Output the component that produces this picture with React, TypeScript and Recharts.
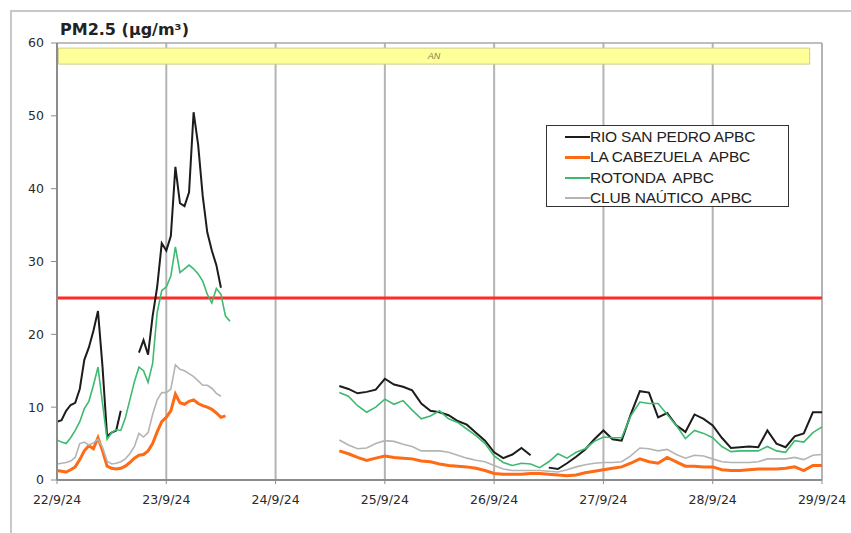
import React from 'react';
import { LineChart, Line, XAxis, YAxis, CartesianGrid, ReferenceLine, ReferenceArea } from 'recharts';

// hours since 22/9/24 00:00
const hours = [
  0, 1, 2, 3, 4, 5, 6, 7, 8, 9, 10, 11, 12, 13, 14, 15, 16, 17, 18, 19,
  20, 21, 22, 23, 24, 25, 26, 27, 28, 29, 30, 31, 32, 33, 34, 35, 36, 37, 38,
  40, 42, 44, 46, 48, 50, 52, 54, 56, 58, 60,
  62, 64, 66, 68, 70, 72, 74, 76, 78, 80, 82, 84, 86, 88, 90, 92, 94, 96, 98, 100, 102, 104,
  106, 108, 110, 112, 114, 116, 118, 120, 122, 124, 126, 128, 130, 132, 134, 136, 138, 140,
  142, 144, 146, 148, 150, 152, 154, 156, 158, 160, 162, 164, 166, 168,
];

const dayTicks = [0, 24, 48, 72, 96, 120, 144, 168];
const dayLabels = ['22/9/24', '23/9/24', '24/9/24', '25/9/24', '26/9/24', '27/9/24', '28/9/24', '29/9/24'];
const yTicks = [0, 10, 20, 30, 40, 50, 60];

const N = null;

const rioSanPedro = [
  8.0, 8.2, 9.5, 10.3, 10.6, 12.5, 16.5, 18.2, 20.5, 23.2, 15.5, 6.0, 6.5, 6.8, 9.5, N, N, N, 17.5, 19.2,
  17.2, 22.5, 26.5, 32.5, 31.5, 33.5, 43, 38, 37.6, 39.5, 50.5, 46, 39, 34, 31.5, 29.5, 26.4, N, N,
  N, N, N, N, N, N, N, N, N, N, N,
  12.9, 12.5, 11.9, 12.1, 12.4, 13.9, 13.1, 12.8, 12.3, 10.5, 9.5, 9.3, 8.9, 8.1, 7.6, 6.5, 5.4, 3.8, 3.0, 3.5, 4.4, 3.4,
  N, 1.7, 1.5, 2.3, 3.2, 4.2, 5.6, 6.8, 5.6, 5.4, 9.0, 12.2, 12.0, 8.6, 9.2, 7.5, 6.6, 9.0,
  8.4, 7.5, 5.8, 4.4, 4.5, 4.6, 4.5, 6.8, 5.0, 4.5, 6.0, 6.4, 9.3, 9.3,
];

const laCabezuela = [
  1.3, 1.2, 1.1, 1.4, 1.8, 2.8, 4.0, 4.7, 4.3, 5.8, 4.0, 1.9, 1.6, 1.5, 1.6, 1.9, 2.4, 3.0, 3.4, 3.5,
  4.0, 5.0, 6.6, 8.0, 8.6, 9.5, 11.8, 10.6, 10.4, 10.8, 11, 10.5, 10.2, 10, 9.7, 9.2, 8.6, 8.8, N,
  N, N, N, N, N, N, N, N, N, N, N,
  4.0, 3.6, 3.1, 2.7, 3.0, 3.3, 3.1, 3.0, 2.9, 2.6, 2.5, 2.2, 2.0, 1.9, 1.8, 1.6, 1.3, 0.9, 0.8, 0.8, 0.8, 0.9,
  0.9, 0.8, 0.7, 0.6, 0.7, 1.0, 1.2, 1.4, 1.6, 1.8, 2.3, 2.9, 2.5, 2.3, 3.1, 2.5, 1.9, 1.9,
  1.8, 1.8, 1.4, 1.3, 1.3, 1.4, 1.5, 1.5, 1.5, 1.6, 1.8, 1.3, 2.0, 2.0,
];

const rotonda = [
  5.5, 5.2, 5.0, 5.8, 6.8, 8.0, 9.8, 10.8, 13.0, 15.5, 10.5, 5.6, 6.5, 6.9, 6.8, 8.5, 11, 13.5, 15.5, 15,
  13.4, 16, 23, 26, 26.5, 28, 32, 28.5, 29, 29.5, 29, 28.3, 27.3, 25.5, 24.3, 26.3, 25.5, 22.5, 21.8,
  N, N, N, N, N, N, N, N, N, N, N,
  12, 11.5, 10.2, 9.3, 10, 11.1, 10.4, 10.9, 9.6, 8.4, 8.8, 9.5, 8.4, 7.9, 7.0, 6.1, 5.0, 3.3, 2.4, 2.0, 2.3, 2.2,
  1.7, 2.5, 3.6, 3.0, 3.8, 4.3, 5.3, 5.9, 5.8, 5.8, 8.8, 10.7, 10.5, 10.5, 9.0, 7.5, 5.7, 6.8,
  6.4, 5.8, 4.6, 3.9, 4.0, 4.0, 4.0, 4.6, 4.0, 3.8, 5.4, 5.2, 6.5, 7.3,
];

const clubNautico = [
  2.2, 2.3, 2.4, 2.6, 3.1, 5.0, 5.2, 4.8, 5.1, 5.6, 4.5, 2.6, 2.2, 2.3, 2.5, 2.9, 3.6, 4.6, 6.4, 5.9,
  6.5, 9, 11, 12, 12, 12.5, 15.8, 15.2, 15, 14.6, 14.2, 13.6, 13, 13, 12.6, 11.9, 11.5, N, N,
  N, N, N, N, N, N, N, N, N, N, N,
  5.5, 4.8, 4.3, 4.4, 5.0, 5.4, 5.3, 4.9, 4.6, 4.0, 4.0, 4.0, 3.8, 3.4, 3.0, 2.7, 2.5, 2.0, 1.5, 1.3, 1.3, 1.3,
  1.3, 1.2, 1.1, 1.4, 1.8, 2.1, 2.3, 2.4, 2.4, 2.5, 3.3, 4.4, 4.3, 4.0, 4.2, 3.5, 3.0, 3.4,
  3.3, 2.9, 2.5, 2.4, 2.4, 2.4, 2.5, 2.9, 2.9, 2.9, 3.1, 2.8, 3.4, 3.5,
];

const seriesNames = ['RIO SAN PEDRO APBC', 'LA CABEZUELA  APBC', 'ROTONDA  APBC', 'CLUB NAÚTICO  APBC'];
const seriesColors = ['#1c1c1c', '#ff6a14', '#3dba6e', '#b4b4b4'];
const seriesWidths = [2, 3, 1.6, 1.6];

const limitValue = 25;
const bandLabel = 'AN';

const data = hours.map((h, i) => ({
  h,
  s0: rioSanPedro[i],
  s1: laCabezuela[i],
  s2: rotonda[i],
  s3: clubNautico[i],
}));

const tickFont = { fontFamily: 'DejaVu Sans', fontSize: 12.5, fill: '#2a2a2a' };

export default function App() {
  return (
    <div style={{ position: 'absolute', left: 0, top: 0, width: 851, height: 533, overflow: 'hidden', background: '#fff' }}>
      <div style={{ position: 'absolute', left: 10, top: 10, width: 900, height: 600, border: '2px solid #c8c8c8' }} />
      <div style={{ position: 'absolute', left: 0, top: 0 }}>
        <LineChart width={851} height={533} data={data} margin={{ top: 43, right: 29, bottom: 28, left: 0 }}>
          <CartesianGrid horizontal={false} stroke="#b4b4b4" strokeWidth={2} />
          <ReferenceLine y={60} stroke="#a8a8a8" strokeWidth={1.5} />
          <XAxis
            dataKey="h"
            type="number"
            domain={[0, 168]}
            ticks={dayTicks}
            tickFormatter={(v: number) => dayLabels[dayTicks.indexOf(v)]}
            height={25}
            tick={tickFont}
            tickSize={4}
            tickMargin={11}
            axisLine={{ stroke: '#8c8c8c', strokeWidth: 2 }}
            tickLine={{ stroke: '#8c8c8c' }}
            interval={0}
          />
          <YAxis
            domain={[0, 60]}
            ticks={yTicks}
            width={57}
            tick={tickFont}
            tickSize={6}
            tickMargin={7}
            axisLine={{ stroke: '#8c8c8c', strokeWidth: 2 }}
            tickLine={{ stroke: '#8c8c8c' }}
            interval={0}
          />
          <ReferenceArea
            x1={0.3}
            x2={165.3}
            y1={57.1}
            y2={59.3}
            fill="#ffff99"
            fillOpacity={1}
            stroke="#cfcf8a"
            strokeWidth={1}
            label={{ value: bandLabel, position: 'center', fontSize: 9, fontStyle: 'italic', fill: '#7d7d45', fontFamily: 'Liberation Sans' }}
          />
          <ReferenceLine y={limitValue} stroke="#ff2a2a" strokeWidth={3} />
          {[0, 1, 2, 3].map((k) => (
            <Line
              key={k}
              dataKey={'s' + k}
              type="linear"
              stroke={seriesColors[k]}
              strokeWidth={seriesWidths[k]}
              dot={false}
              isAnimationActive={false}
              connectNulls={false}
            />
          ))}
        </LineChart>
      </div>
      <div
        style={{
          position: 'absolute',
          left: 60,
          top: 22,
          fontFamily: 'DejaVu Sans',
          fontWeight: 'bold',
          fontSize: 16,
          lineHeight: '16px',
          color: '#222',
        }}
      >
        PM2.5 (µg/m³)
      </div>
      <div
        style={{
          position: 'absolute',
          left: 546,
          top: 125,
          width: 243,
          height: 82,
          border: '1px solid #333',
          background: '#fff',
          boxSizing: 'border-box',
        }}
      >
        {seriesNames.map((n, k) => (
          <div key={k} style={{ position: 'absolute', left: 18, top: 1 + k * 20.3, height: 20, display: 'flex', alignItems: 'center' }}>
            <div style={{ width: 25, height: seriesWidths[k] + 0.5, background: seriesColors[k] }} />
            <span style={{ fontFamily: 'Liberation Sans', fontSize: 15.5, color: '#222', whiteSpace: 'pre', letterSpacing: -0.2 }}>{n}</span>
          </div>
        ))}
      </div>
    </div>
  );
}
